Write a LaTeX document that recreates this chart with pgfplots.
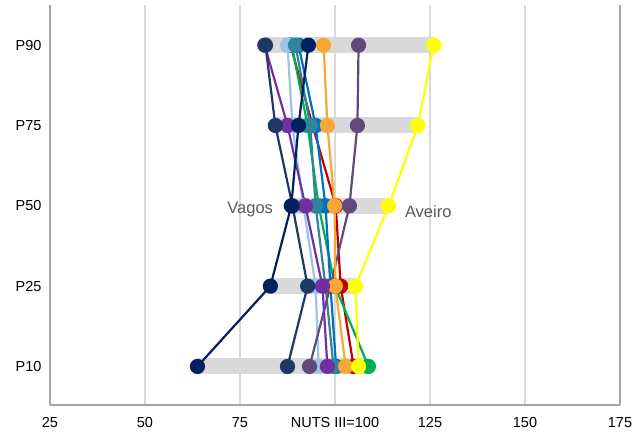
\documentclass[border=0pt]{standalone}
\usepackage{pgfplots}
\pgfplotsset{compat=1.18}
\usepackage{fontspec}
\setmainfont{Liberation Sans}
\definecolor{cnavy}{HTML}{002060}
\definecolor{cdblue}{HTML}{1F3864}
\definecolor{cpurple}{HTML}{7030A0}
\definecolor{clblue}{HTML}{9DC3E6}
\definecolor{cteal}{HTML}{31849B}
\definecolor{cblue}{HTML}{0070C0}
\definecolor{cgreen}{HTML}{00B050}
\definecolor{cred}{HTML}{C00000}
\definecolor{corange}{HTML}{F5A833}
\definecolor{cpgray}{HTML}{604A7B}
\definecolor{cyellow}{HTML}{FFFF00}
\definecolor{cgrid}{HTML}{D9D9D9}
\definecolor{caxis}{HTML}{A6A6A6}
\definecolor{ctext}{HTML}{595959}
\begin{document}
\begin{tikzpicture}
\useasboundingbox (-50bp,-31bp) rectangle (594bp,405bp);
\begin{axis}[
  at={(0,0)}, anchor=south west,
  scale only axis, width=570bp, height=400bp,
  xmin=25, xmax=175, ymin=-0.48, ymax=4.5,
  xtick={25,50,75,100,125,150,175},
  xticklabels={25,50,75,{NUTS III=100},125,150,175},
  ytick={0,1,2,3,4},
  yticklabels={P10,P25,P50,P75,P90},
  major tick length=0pt,
  xmajorgrids, grid style={cgrid, line width=1.2bp},
  axis x line*=bottom, axis y line*=left,
  axis line style={caxis, line width=1.2bp},
  tick label style={font=\fontsize{14.5bp}{17bp}\selectfont, black},
  xticklabel style={yshift=-9bp},
  yticklabel style={xshift=-5bp},
  every axis plot/.append style={line width=2.2bp, mark=*, mark size=6.5bp},
  clip=false,
]
\draw[caxis, line width=1.2bp] (rel axis cs:1,0) -- (rel axis cs:1,1);
% range bars
\addplot[cgrid, line width=16bp, mark=none] coordinates {(63.8,0) (108.8,0)};
\addplot[cgrid, line width=16bp, mark=none] coordinates {(83.0,1) (105.4,1)};
\addplot[cgrid, line width=16bp, mark=none] coordinates {(88.5,2) (114.1,2)};
\addplot[cgrid, line width=16bp, mark=none] coordinates {(84.3,3) (121.8,3)};
\addplot[cgrid, line width=16bp, mark=none] coordinates {(81.7,4) (126.0,4)};
% series
\addplot[cred, mark options={fill=cred, draw=cred}] coordinates {(104.9,0) (101.5,1) (100.2,2) (94.1,3) (88.3,4)};
\addplot[cgreen, mark options={fill=cgreen, draw=cgreen}] coordinates {(108.8,0) (100.0,1) (95.7,2) (92.8,3) (88.6,4)};
\addplot[cblue, mark options={fill=cblue, draw=cblue}] coordinates {(100.3,0) (98.8,1) (97.5,2) (94.9,3) (90.4,4)};
\addplot[clblue, mark options={fill=clblue, draw=clblue}] coordinates {(95.7,0) (94.9,1) (91.7,2) (88.8,3) (87.5,4)};
\addplot[cteal, mark options={fill=cteal, draw=cteal}] coordinates {(99.6,0) (97.5,1) (94.9,2) (93.5,3) (89.6,4)};
\addplot[cpgray, mark options={fill=cpgray, draw=cpgray}] coordinates {(93.3,0) (98.8,1) (103.8,2) (105.9,3) (106.2,4)};
\addplot[corange, mark options={fill=corange, draw=corange}] coordinates {(102.8,0) (100.1,1) (99.9,2) (98.0,3) (97.0,4)};
\addplot[cpurple, mark options={fill=cpurple, draw=cpurple}] coordinates {(98.0,0) (96.7,1) (92.2,2) (87.5,3) (81.5,4)};
\addplot[cdblue, mark options={fill=cdblue, draw=cdblue}] coordinates {(87.5,0) (92.8,1) (88.8,2) (84.3,3) (81.7,4)};
\addplot[cnavy, mark options={fill=cnavy, draw=cnavy}] coordinates {(63.8,0) (83.0,1) (88.5,2) (90.4,3) (93.0,4)};
\addplot[cyellow, mark options={fill=cyellow, draw=cyellow}] coordinates {(106.2,0) (105.4,1) (114.1,2) (121.8,3) (126.0,4)};
\node[anchor=east, text=ctext, font=\fontsize{16.5bp}{19bp}\selectfont] at (axis cs:84.6,1.95) {Vagos};
\node[anchor=west, text=ctext, font=\fontsize{16.5bp}{19bp}\selectfont] at (axis cs:117.5,1.93) {Aveiro};
\end{axis}
\end{tikzpicture}
\end{document}
